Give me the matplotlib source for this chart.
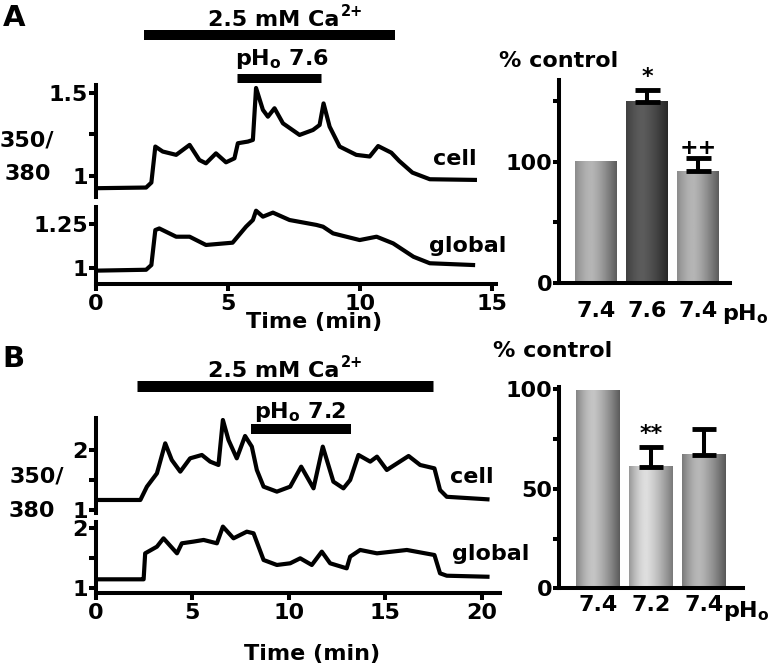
import numpy as np
import matplotlib
matplotlib.use('Agg')
import matplotlib.pyplot as plt
from matplotlib.transforms import blended_transform_factory

plt.rcParams['font.family'] = ['DejaVu Sans']
plt.rcParams['font.weight'] = 'bold'
plt.rcParams['mathtext.fontset'] = 'custom'
plt.rcParams['mathtext.rm'] = 'DejaVu Sans:bold'
plt.rcParams['mathtext.bf'] = 'DejaVu Sans:bold'
plt.rcParams['mathtext.it'] = 'DejaVu Sans:bold'
plt.rcParams['mathtext.default'] = 'rm'

# ---------------- data ----------------
# Panel A traces (time in min, 350/380 ratio)
a_time_cell = [0, 1.9, 2.1, 2.25, 2.53, 3.04, 3.55, 3.92, 4.17, 4.55, 4.93, 5.25, 5.38,
               5.76, 5.95, 6.07, 6.33, 6.52, 6.77, 7.09, 7.72, 8.23, 8.48, 8.63, 8.86,
               9.24, 9.87, 10.38, 10.7, 11.2, 11.5, 12.0, 12.66, 14.37]
a_cell = [0.926, 0.93, 0.96, 1.177, 1.147, 1.127, 1.187, 1.096, 1.076, 1.136, 1.082, 1.106,
          1.197, 1.207, 1.217, 1.53, 1.398, 1.357, 1.408, 1.317, 1.247, 1.277, 1.307, 1.437,
          1.297, 1.177, 1.127, 1.117, 1.18, 1.14, 1.09, 1.02, 0.98, 0.976]
a_time_glob = [0, 1.9, 2.1, 2.25, 2.4, 3.04, 3.55, 4.17, 5.18, 5.69, 5.95, 6.07, 6.33, 6.71,
               7.34, 8.36, 8.61, 8.99, 10.0, 10.64, 11.27, 12.04, 12.66, 14.3]
a_glob = [0.985, 0.99, 1.017, 1.216, 1.225, 1.178, 1.178, 1.131, 1.144, 1.235, 1.273, 1.326,
          1.292, 1.315, 1.273, 1.245, 1.235, 1.197, 1.159, 1.178, 1.140, 1.064, 1.027, 1.017]
a_ca_span = [1.83, 11.33]
a_ph_span = [5.33, 8.55]

# Panel B traces
b_time_cell = [0, 2.3, 2.47, 2.64, 3.16, 3.59, 3.93, 4.37, 4.88, 5.49, 5.92, 6.35, 6.58, 6.87,
               7.30, 7.73, 8.08, 8.34, 8.69, 9.38, 10.07, 10.64, 11.28, 11.76, 12.31, 12.83,
               13.18, 13.61, 14.22, 14.57, 15.08, 16.21, 16.81, 17.55, 17.84, 18.19, 20.3]
b_cell = [1.167, 1.167, 1.278, 1.389, 1.611, 2.111, 1.833, 1.639, 1.861, 1.917, 1.806, 1.75,
          2.5, 2.167, 1.861, 2.233, 2.056, 1.667, 1.389, 1.306, 1.389, 1.722, 1.361, 2.056,
          1.472, 1.361, 1.5, 1.917, 1.806, 1.889, 1.667, 1.9, 1.75, 1.694, 1.333, 1.22, 1.178]
b_time_glob = [0, 2.4, 2.47, 2.55, 3.16, 3.5, 4.2, 4.45, 5.05, 5.58, 6.27, 6.58, 7.13, 7.82,
               8.17, 8.69, 9.38, 10.07, 10.59, 11.19, 11.71, 12.14, 13.0, 13.18, 13.7, 14.57,
               16.12, 17.55, 17.84, 18.19, 20.3]
b_glob = [1.15, 1.15, 1.15, 1.583, 1.694, 1.833, 1.583, 1.75, 1.778, 1.806, 1.75, 2.028,
          1.833, 1.944, 1.917, 1.472, 1.389, 1.417, 1.5, 1.389, 1.611, 1.417, 1.333, 1.528,
          1.639, 1.583, 1.639, 1.555, 1.25, 1.21, 1.193]
b_ca_span = [2.12, 17.46]
b_ph_span = [8.03, 13.2]

# Bar charts (% control)
a_bar_labels = ['7.4', '7.6', '7.4']
a_bar_vals = [100, 149, 92]
a_bar_err = [0, 10, 11]
a_bar_marks = ['', '*', '++']
b_bar_labels = ['7.4', '7.2', '7.4']
b_bar_vals = [99, 61, 67]
b_bar_err = [0, 10, 13]
b_bar_marks = ['', '**', '']

# ---------------- figure ----------------
W, H = 780, 668
fig = plt.figure(figsize=(7.8, 6.68), dpi=100)
LW = 2.9
FS = 16
TLW = 3.0


def ax_at(x0, y0, x1, y1):
    return fig.add_axes([x0 / W, 1 - y1 / H, (x1 - x0) / W, (y1 - y0) / H])


def ftext(x, y, s, ha='left', va='baseline', size=FS):
    return fig.text(x / W, 1 - y / H, s, ha=ha, va=va, fontsize=size, fontweight='bold')


def trace_axes(x0, y0, x1, y1, xlim, ylim, yticks, ylabels, bottom, xticks=None):
    ax = ax_at(x0, y0, x1, y1)
    ax.patch.set_alpha(0)
    ax.set_xlim(*xlim)
    ax.set_ylim(*ylim)
    for s in ['top', 'right']:
        ax.spines[s].set_visible(False)
    ax.spines['left'].set_linewidth(LW)
    ax.spines['bottom'].set_linewidth(LW)
    ax.set_yticks(yticks)
    ax.set_yticklabels(ylabels)
    ax.tick_params(axis='y', direction='out', length=5, width=LW, pad=1, labelsize=FS)
    if bottom:
        ax.set_xticks(xticks)
        ax.set_xticklabels([str(v) for v in xticks])
        ax.tick_params(axis='x', direction='out', length=5, width=LW, pad=2, labelsize=FS)
    else:
        ax.spines['bottom'].set_visible(False)
        ax.set_xticks([])
    for lab in ax.get_xticklabels() + ax.get_yticklabels():
        lab.set_fontweight('bold')
    return ax


def cond_bar(ax, span, ypix, thick_px):
    tr = blended_transform_factory(ax.transData, fig.transFigure)
    ax.plot(span, [1 - ypix / H] * 2, color='black', lw=thick_px * 0.72,
            solid_capstyle='butt', transform=tr, clip_on=False)


def gradient_bar(ax, x, width, h, shade):
    el, pk, er = shade
    u = np.linspace(0, 1, 64)
    g = np.where(u < 0.4, el + (pk - el) * np.sin(np.pi / 2 * u / 0.4),
                 pk + (er - pk) * ((u - 0.4) / 0.6) ** 1.3)
    ax.imshow(g[np.newaxis, :], cmap='gray', vmin=0, vmax=1, aspect='auto',
              extent=(x - width / 2, x + width / 2, 0, h), interpolation='bilinear', zorder=2)


def bar_axes(x0, y0, x1, y1, xlim, ylim, vals, errs, labels, shades, yticks, ylabels,
             width, lab_pad, capsize):
    ax = ax_at(x0, y0, x1, y1)
    ax.patch.set_alpha(0)
    pos = np.arange(len(vals))
    for p, v, sh in zip(pos, vals, shades):
        gradient_bar(ax, p, width, v, sh)
    for p, v, e in zip(pos, vals, errs):
        if e > 0:
            ax.errorbar([p], [v], yerr=[[0], [e]], fmt='none', ecolor='black',
                        elinewidth=LW, capsize=capsize, capthick=LW + 0.6, zorder=3)
    ax.set_xlim(*xlim)
    ax.set_ylim(*ylim)
    for s in ['top', 'right']:
        ax.spines[s].set_visible(False)
    ax.spines['left'].set_linewidth(LW)
    ax.spines['bottom'].set_linewidth(LW)
    ax.set_xticks(pos)
    ax.set_xticklabels(labels)
    ax.set_yticks(yticks)
    ax.set_yticklabels(ylabels)
    ax.tick_params(axis='x', length=0, pad=lab_pad, labelsize=FS)
    ax.tick_params(axis='y', direction='out', length=4, width=LW, pad=1, labelsize=FS)
    for lab in ax.get_xticklabels() + ax.get_yticklabels():
        lab.set_fontweight('bold')
    return ax


def ca_label(x_end, y_base):
    ftext(x_end, y_base, '2.5 mM Ca', ha='right')
    ftext(x_end + 2, y_base - 9.5, '2+', ha='left', size=10.5)


# ---------------- Panel A traces ----------------
axAc = trace_axes(96, 85, 496, 197, (0, 15.17), (0.873, 1.548), [1, 1.25, 1.5],
                  ['1', '', '1.5'], False)
axAc.plot(a_time_cell, a_cell, color='black', lw=TLW, solid_joinstyle='round')
axAg = trace_axes(96, 207, 496, 284, (0, 15.17), (0.909, 1.347), [1, 1.25],
                  ['1', '1.25'], True, xticks=[0, 5, 10, 15])
axAg.plot(a_time_glob, a_glob, color='black', lw=TLW, solid_joinstyle='round')
cond_bar(axAc, a_ca_span, 35, 10)
cond_bar(axAc, a_ph_span, 77.5, 9)

ftext(3, 26, 'A', size=21)
ca_label(339, 26)
ftext(282, 65, r'pH$_{\rm o}$ 7.6', ha='center')
ftext(27, 146.7, '350/', ha='center')
ftext(28, 180, '380', ha='center')
ftext(433, 165, 'cell')
ftext(429, 251.7, 'global')
ftext(314, 328, 'Time (min)', ha='center')

# ---------------- Panel B traces ----------------
axBc = trace_axes(96, 418, 500, 513, (0, 20.95), (0.95, 2.533), [1, 1.5, 2],
                  ['1', '', '2'], False)
axBc.plot(b_time_cell, b_cell, color='black', lw=TLW, solid_joinstyle='round')
axBg = trace_axes(96, 521.7, 500, 593, (0, 20.95), (0.922, 2.11), [1, 1.5, 2],
                  ['1', '', '2'], True, xticks=[0, 5, 10, 15, 20])
axBg.plot(b_time_glob, b_glob, color='black', lw=TLW, solid_joinstyle='round')
cond_bar(axBc, b_ca_span, 386, 11)
cond_bar(axBc, b_ph_span, 429.3, 10)

ftext(2, 367, 'B', size=21)
ca_label(339, 376.7)
ftext(300, 418, r'pH$_{\rm o}$ 7.2', ha='center')
ftext(37, 483, '350/', ha='center')
ftext(32, 516.7, '380', ha='center')
ftext(450, 483, 'cell')
ftext(451.7, 560, 'global')
ftext(312, 660, 'Time (min)', ha='center')

# ---------------- Panel A bars ----------------
shadesA = [(0.55, 0.71, 0.36), (0.25, 0.36, 0.16), (0.55, 0.71, 0.36)]
axAb = bar_axes(559, 80, 730, 283.3, (-0.725, 2.63), (0, 167), a_bar_vals, a_bar_err,
                a_bar_labels, shadesA, [0, 50, 100, 150], ['0', '', '100', ''], 0.82, 13, 9)
for p, v, e, m in zip(range(3), a_bar_vals, a_bar_err, a_bar_marks):
    if m:
        axAb.annotate(m, xy=(p, v + e), xytext=(0, 2 if m == '*' else 0),
                      textcoords='offset points', ha='center', va='bottom',
                      fontsize=FS, fontweight='bold', annotation_clip=False)
ftext(559, 66.7, '% control', ha='center')
ftext(722, 320, r'pH$_{\rm o}$')

# ---------------- Panel B bars ----------------
shadesB = [(0.52, 0.77, 0.36), (0.6, 0.87, 0.48), (0.48, 0.72, 0.35)]
axBb = bar_axes(559, 386.7, 743, 588.3, (-0.736, 2.74), (0, 101.3), b_bar_vals, b_bar_err,
                b_bar_labels, shadesB, [0, 25, 50, 75, 100], ['0', '', '50', '', '100'],
                0.83, 5, 8.5)
for p, v, e, m in zip(range(3), b_bar_vals, b_bar_err, b_bar_marks):
    if m:
        axBb.annotate(m, xy=(p, v + e), xytext=(0, 2), textcoords='offset points',
                      ha='center', va='bottom', fontsize=FS, fontweight='bold',
                      annotation_clip=False)
ftext(553, 356.7, '% control', ha='center')
ftext(723, 617, r'pH$_{\rm o}$')

fig.savefig('out.png', dpi=100)
